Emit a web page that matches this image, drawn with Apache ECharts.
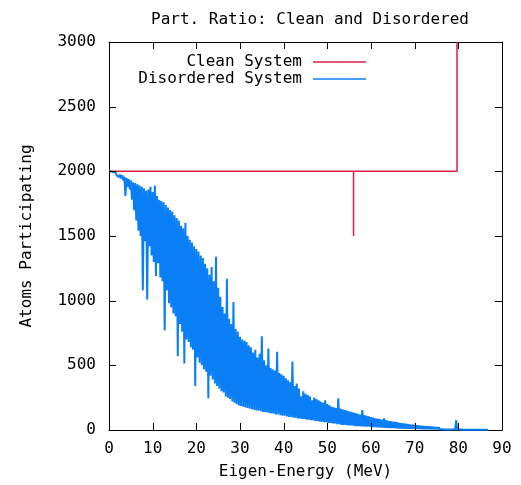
<!DOCTYPE html>
<html>
<head>
<meta charset="utf-8">
<script src="https://cdn.jsdelivr.net/npm/echarts@6/dist/echarts.min.js"></script>
<style>html,body{margin:0;padding:0;background:#fff}#c{width:521px;height:485px}</style>
</head>
<body>
<div id="c"></div>
<script>
var titleText = 'Part. Ratio: Clean and Disordered';
var xName = 'Eigen-Energy (MeV)';
var yName = 'Atoms Participating';
var xTicks = [0, 10, 20, 30, 40, 50, 60, 70, 80, 90];
var yTicks = [0, 500, 1000, 1500, 2000, 2500, 3000];

// Clean system: energy (MeV) and participation
var cleanEnergy = [0, 56, 56, 56, 79.7, 79.7];
var cleanRatio  = [2000, 2000, 1500, 2000, 2000, 3000];

// Disordered system: sampled every 0.25 MeV starting at 0
var disStart = 0;
var disStep = 0.25;
var disRatio = [
  2000,1995,1998,1990, 1995,1980,1990,1970, 1985,1955,1975,1945, 1970,1930,1960,1810,
  1950,1880,1940,1860, 1930,1780,1915,1700, 1910,1620,1900,1540, 1890,1500,1880,1080,
  1870,1460,1850,1010, 1860,1420,1880,1350, 1840,1300,1890,1190, 1810,1290,1780,1180,
  1770,1150,1760,770,  1740,1080,1720,980,  1700,950,1690,900,   1660,880,1640,570,
  1620,820,1580,760,   1560,515,1600,700,   1500,680,1470,640,   1450,620,1420,340,
  1400,560,1380,520,   1350,500,1330,470,   1285,450,1250,245,   1200,420,1260,390,
  1150,360,1340,340,   1100,320,1030,300,   950,290,900,260,     1170,250,860,240,
  820,220,990,210,     780,200,760,190,     720,185,700,180,     690,175,680,170,
  655,165,640,160,     600,155,620,150,     560,150,590,145,     725,140,540,140,
  500,135,630,130,     480,130,470,125,     460,120,605,120,     440,115,430,110,
  420,110,400,105,     385,100,370,100,     530,95,340,95,       360,90,320,90,
  260,85,300,85,       280,80,270,80,       260,75,230,75,       250,70,240,70,
  230,65,220,65,       210,60,230,60,       200,55,190,55,       180,50,175,50,
  170,45,245,45,       165,40,160,40,       155,40,150,35,       145,35,140,35,
  135,30,130,30,       125,30,120,28,       155,28,115,25,       110,25,105,25,
  100,22,95,22,        90,20,88,20,         85,18,80,18,         90,16,75,16,
  70,15,68,15,         65,14,62,13,         60,12,55,12,         52,11,50,10,
  48,10,45,10,         42,9,40,9,           40,8,36,8,           34,8,32,7,
  30,7,28,7,           28,6,26,6,           25,6,24,5,           22,5,21,5,
  20,5,19,4,           18,4,17,4,           16,4,15,3,           14,3,75,3,
  13,3,12,3,           11,2,10,2,           10,2,9,2,            8,2,8,1,
  7,1,6,1,             5,1,5,1,             4,1,3,1
];

var cleanData = cleanEnergy.map(function (e, i) { return [e, cleanRatio[i]]; });
var disData = disRatio.map(function (v, i) { return [disStart + i * disStep, v]; });

var FONT = 'DejaVu Sans Mono';
var RED = '#dc1e46';
var BLUE = '#0a7ff5';
var X_MIN = 0, X_MAX = 90, Y_MIN = 0, Y_MAX = 3000;
var TICK = 7;

var chart = echarts.init(document.getElementById('c'), null, {renderer: 'canvas'});
function line() { return {show: true, onZero: false, lineStyle: {color: '#000', width: 1}}; }
var plain = function (v) { return String(v); };
function legendItem(name, top) {
  return {
    data: [name], top: top, orient: 'vertical', right: 150, align: 'right', icon: 'rect',
    itemWidth: 53, itemHeight: 1.5, itemGap: 3,
    textStyle: {fontFamily: FONT, fontSize: 16, color: '#000', padding: [0, 6, 0, 0]}
  };
}
var tickLineStyle = {stroke: '#000', lineWidth: 1};
// tick marks on all four borders, positioned through the axes' own scales
function renderXTicks(params, api) {
  var v = api.value(0);
  var b = api.coord([v, Y_MIN]);
  var t = api.coord([v, Y_MAX]);
  var x = Math.round(b[0]) + 0.5;
  return {type: 'group', children: [
    {type: 'line', shape: {x1: x, y1: b[1], x2: x, y2: b[1] - TICK}, style: tickLineStyle},
    {type: 'line', shape: {x1: x, y1: t[1], x2: x, y2: t[1] + TICK}, style: tickLineStyle}
  ]};
}
function renderYTicks(params, api) {
  var v = api.value(1);
  var l = api.coord([X_MIN, v]);
  var r = api.coord([X_MAX, v]);
  var y = Math.round(l[1]) + 0.5;
  return {type: 'group', children: [
    {type: 'line', shape: {x1: l[0], y1: y, x2: l[0] + TICK, y2: y}, style: tickLineStyle},
    {type: 'line', shape: {x1: r[0], y1: y, x2: r[0] - TICK, y2: y}, style: tickLineStyle}
  ]};
}
chart.setOption({
  animation: false,
  backgroundColor: '#fff',
  title: {
    text: titleText, left: 305, top: 7, textAlign: 'center',
    textStyle: {fontFamily: FONT, fontSize: 16, fontWeight: 'normal', color: '#000'}
  },
  legend: [legendItem('Clean System', 49), legendItem('Disordered System', 66)],
  grid: {left: 109, right: 19, top: 42, bottom: 53},
  xAxis: [
    {type: 'value', min: X_MIN, max: X_MAX, interval: 10, position: 'bottom',
     name: xName, nameLocation: 'middle', nameGap: 34,
     nameTextStyle: {fontFamily: FONT, fontSize: 16, color: '#000'},
     axisLine: line(), axisTick: {show: false}, splitLine: {show: false},
     axisLabel: {fontFamily: FONT, fontSize: 16, color: '#000', margin: 11, formatter: plain}},
    {type: 'value', min: X_MIN, max: X_MAX, interval: 10, position: 'top',
     axisLine: line(), axisTick: {show: false}, splitLine: {show: false}, axisLabel: {show: false}}
  ],
  yAxis: [
    {type: 'value', min: Y_MIN, max: Y_MAX, interval: 500, position: 'left',
     name: yName, nameLocation: 'middle', nameGap: 74, nameRotate: 90,
     nameTextStyle: {fontFamily: FONT, fontSize: 16, color: '#000'},
     axisLine: line(), axisTick: {show: false}, splitLine: {show: false},
     axisLabel: {fontFamily: FONT, fontSize: 16, color: '#000', margin: 13, formatter: plain}},
    {type: 'value', min: Y_MIN, max: Y_MAX, interval: 500, position: 'right',
     axisLine: line(), axisTick: {show: false}, splitLine: {show: false}, axisLabel: {show: false}}
  ],
  series: [
    {name: 'Clean System', type: 'line', data: cleanData, showSymbol: false, symbol: 'none',
     lineStyle: {color: RED, width: 1.5}, itemStyle: {color: RED}, clip: true, z: 3},
    {name: 'Disordered System', type: 'line', data: disData, showSymbol: false, symbol: 'none',
     lineStyle: {color: BLUE, width: 2}, itemStyle: {color: BLUE}, clip: true, z: 2},
    {type: 'custom', name: 'xticks', data: xTicks.map(function (v) { return [v, Y_MIN]; }),
     renderItem: renderXTicks, clip: false, silent: true, z: 5},
    {type: 'custom', name: 'yticks', data: yTicks.map(function (v) { return [X_MIN, v]; }),
     renderItem: renderYTicks, clip: false, silent: true, z: 5}
  ]
});
</script>
</body>
</html>
